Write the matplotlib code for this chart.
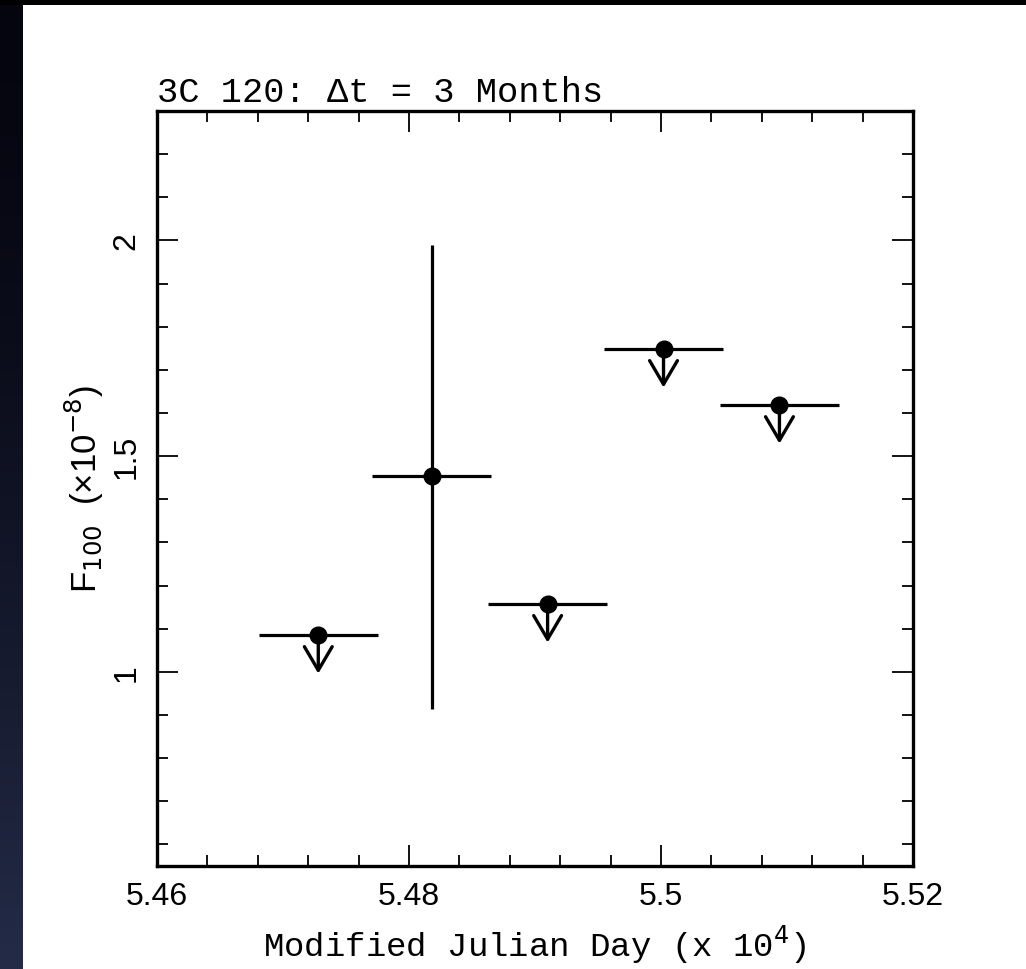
import matplotlib
matplotlib.use('Agg')
import matplotlib.pyplot as plt
import numpy as np
from matplotlib.patches import Rectangle
from matplotlib.ticker import MultipleLocator

# 3C 120 light curve, 3 month bins (MJD in units of 1e4)
mjd = [5.4728, 5.4818, 5.4910, 5.5002, 5.5094]
flux = [1.086, 1.455, 1.158, 1.749, 1.619]
half_bin = [0.0047, 0.0047, 0.0047, 0.0047, 0.0047]
err_lo = [0.0, 0.54, 0.0, 0.0, 0.0]
err_hi = [0.0, 0.535, 0.0, 0.0, 0.0]
upper_limit = [True, False, True, True, True]
arrow_len = 0.09

fig = plt.figure(figsize=(10.26, 9.70), dpi=100, facecolor='black')

# slide background: white panel, dark gradient strip on the left
fig.patches.append(Rectangle((23/1026, 0), 1 - 23/1026, 1 - 6/970,
                             transform=fig.transFigure, facecolor='white',
                             edgecolor='none', zorder=-10))
strip = fig.add_axes([0, 0, 23/1026, 1 - 6/970])
grad = np.linspace(0, 1, 256)
cols = np.zeros((256, 1, 3))
cols[:, 0, 0] = 0.02 + 0.12 * grad ** 1.5
cols[:, 0, 1] = 0.02 + 0.15 * grad ** 1.5
cols[:, 0, 2] = 0.06 + 0.22 * grad ** 1.5
strip.imshow(cols, aspect='auto', origin='upper')
strip.set_axis_off()

ax = fig.add_axes([157/1026, 103/970, 756/1026, 755/970])
ax.set_facecolor('none')

for i in range(len(mjd)):
    ax.plot([mjd[i] - half_bin[i], mjd[i] + half_bin[i]], [flux[i], flux[i]],
            color='black', lw=2.3, solid_capstyle='butt')
    if not upper_limit[i]:
        ax.plot([mjd[i], mjd[i]], [flux[i] - err_lo[i], flux[i] + err_hi[i]],
                color='black', lw=2.3, solid_capstyle='butt')
    else:
        ax.annotate('', xy=(mjd[i], flux[i] - arrow_len), xytext=(mjd[i], flux[i]),
                    arrowprops=dict(arrowstyle='->,head_length=1.7,head_width=1.0',
                                    color='black', lw=2.4, mutation_scale=10,
                                    shrinkA=0, shrinkB=0))
ax.plot(mjd, flux, 'o', color='black', markersize=12, zorder=5)

ax.set_xlim(5.46, 5.52)
ax.set_ylim(0.55, 2.3)
ax.set_xticks([5.46, 5.48, 5.5, 5.52])
ax.set_xticklabels(['5.46', '5.48', '5.5', '5.52'])
ax.set_yticks([1, 1.5, 2])
ax.set_yticklabels(['1', '1.5', '2'])
ax.xaxis.set_minor_locator(MultipleLocator(0.004))
ax.yaxis.set_minor_locator(MultipleLocator(0.1))
ax.tick_params(which='both', direction='in', top=True, right=True, width=1.3, color='black')
ax.tick_params(which='major', length=15)
ax.tick_params(which='minor', length=8)
ax.tick_params(axis='both', which='major', pad=11, labelsize=23)
for lab in ax.get_xticklabels() + ax.get_yticklabels():
    lab.set_family('Liberation Sans')
for lab in ax.get_yticklabels():
    lab.set_rotation(90)
    lab.set_va('center')
for sp in ax.spines.values():
    sp.set_linewidth(2.4)

ax.set_xlabel('Modified Julian Day (x 10$^4$)', family='Liberation Mono',
              fontsize=24.5, labelpad=8)
ax.text(-0.096, 0.5, 'F$_{100}$  (×10$^{-8}$)', transform=ax.transAxes,
        rotation=90, ha='center', va='center', fontsize=25, family='Liberation Sans')
ax.set_title('3C 120: Δt = 3 Months', loc='left', family='Liberation Mono',
             fontsize=25.5, pad=7)

fig.savefig('out.png', dpi=100, facecolor='black')
